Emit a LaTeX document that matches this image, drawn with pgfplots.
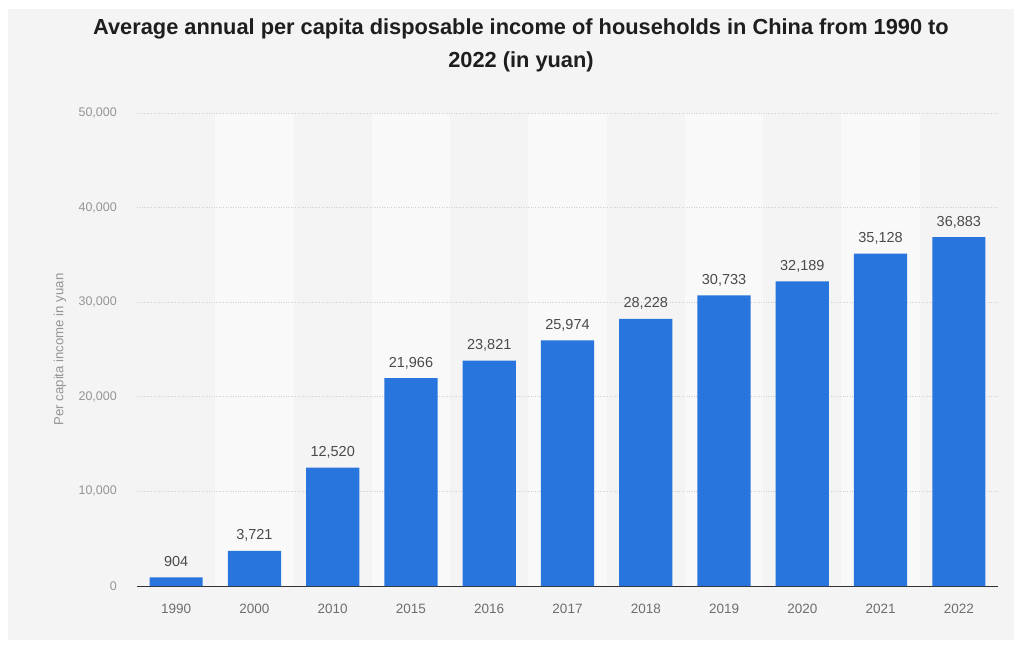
\documentclass[border=0pt]{standalone}
\usepackage{pgfplots}
\pgfplotsset{compat=1.18}
\usepackage{fontspec}
\setmainfont{Liberation Sans}
\definecolor{barblue}{HTML}{2876DD}
\definecolor{panel}{HTML}{F4F4F4}
\definecolor{band}{HTML}{F9F9F9}
\definecolor{ytickc}{HTML}{959595}
\definecolor{xtickc}{HTML}{6E6E6E}
\definecolor{vlab}{HTML}{4A4A4A}
\definecolor{gridc}{HTML}{CFCFCF}
\definecolor{titlec}{HTML}{1E1E1E}
\begin{document}
\begin{tikzpicture}
\fill[white] (-137pt,-60pt) rectangle (877pt,586pt);
\useasboundingbox (-137pt,-60pt) rectangle (877pt,586pt);
\fill[panel] (-129pt,-54pt) rectangle (877pt,577pt);
\foreach \i in {1,3,5,7,9} {
  \fill[band] ({\i*78.2727pt},0pt) rectangle ({(\i+1)*78.2727pt},473pt);
}
\begin{axis}[
  at={(0pt,0pt)}, anchor=south west,
  scale only axis, width=861pt, height=473pt,
  xmin=-0.5, xmax=10.5, ymin=0, ymax=50000,
  xtick={0,...,10},
  xticklabels={1990,2000,2010,2015,2016,2017,2018,2019,2020,2021,2022},
  ytick={0,10000,20000,30000,40000,50000},
  scaled y ticks=false,
  /pgf/number format/1000 sep={,},
  /pgf/number format/assume math mode=true,
  axis x line*=bottom, axis y line*=left,
  x axis line style={-, draw=black!80, line width=1pt},
  y axis line style={draw=none},
  major tick length=0pt,
  ymajorgrids, grid style={gridc, dotted, line width=0.8pt},
  xticklabel style={font=\fontsize{13.5}{16}\selectfont, text=xtickc, anchor=base, yshift=-27pt, inner sep=0pt},
  yticklabel style={font=\fontsize{12.5}{15}\selectfont, text=ytickc, anchor=east, inner sep=0pt, xshift=-20pt},
  ylabel={Per capita income in yuan},
  every axis y label/.style={at={(axis description cs:0,0.5)}, rotate=90, anchor=center, yshift=77pt, font=\fontsize{13.2}{15}\selectfont, text=ytickc},
  ybar, bar width=0.68,
  nodes near coords,
  nodes near coords style={font=\fontsize{14.5}{17}\selectfont, text=vlab, anchor=base, yshift=11pt, inner sep=0pt},
]
\addplot[fill=barblue, draw=none] coordinates {
(0,904) (1,3721) (2,12520) (3,21966) (4,23821) (5,25974) (6,28228) (7,30733) (8,32189) (9,35128) (10,36883)
};
\end{axis}
\node[anchor=base, font=\fontsize{21.8}{26}\selectfont\bfseries, text=titlec] at (384pt,551pt) {Average annual per capita disposable income of households in China from 1990 to};
\node[anchor=base, font=\fontsize{21.8}{26}\selectfont\bfseries, text=titlec] at (384pt,518pt) {2022 (in yuan)};
\end{tikzpicture}
\end{document}
